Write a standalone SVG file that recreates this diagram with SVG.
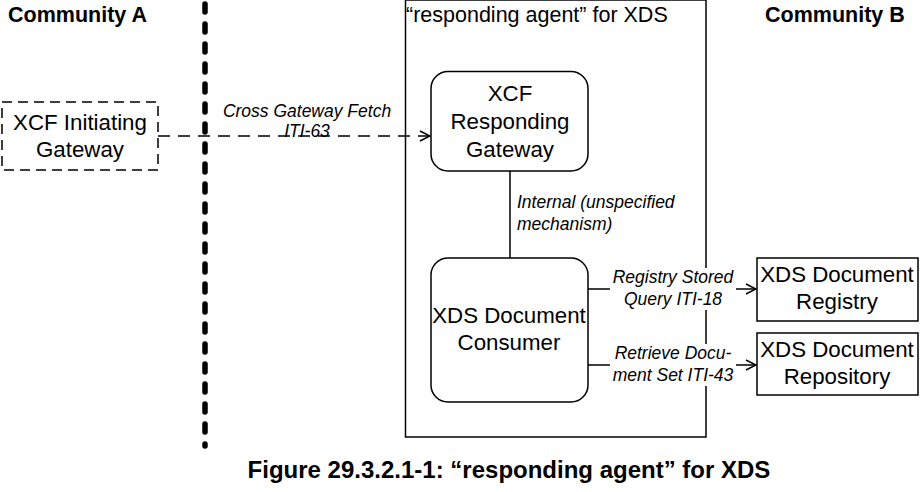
<svg xmlns="http://www.w3.org/2000/svg" width="924" height="492" viewBox="0 0 924 492">
<defs>
<style>
text{font-family:"Liberation Sans",Arial,sans-serif;fill:#000}
.b{font-weight:bold;font-size:21.5px}
.n{font-size:22.3px;text-anchor:middle}
.i{font-style:italic;font-size:17.5px}
.box{fill:#fff;stroke:#000;stroke-width:1.5}
.ln{fill:none;stroke:#000;stroke-width:1.5}
</style>
<marker id="arr" viewBox="0 0 12 12" refX="11" refY="6" markerWidth="12" markerHeight="12" markerUnits="userSpaceOnUse" orient="auto">
<path d="M1,1 L11,6 L1,11" fill="none" stroke="#000" stroke-width="1.5"/>
</marker>
</defs>
<rect width="924" height="492" fill="#fff"/>
<text class="b" x="8" y="22">Community A</text>
<text class="b" x="765" y="22">Community B</text>
<line x1="205" y1="4" x2="205" y2="446" stroke="#000" stroke-width="5.5" stroke-linecap="round" stroke-dasharray="8 12"/>
<g id="responding-agent">
<rect x="405.5" y="0" width="300.5" height="437" fill="none" stroke="#000" stroke-width="1.5"/>
<text x="406" y="22" style="font-size:21.5px">“responding agent” for XDS</text>
</g>
<g id="connectors">
<line class="ln" x1="158" y1="136" x2="430" y2="136" stroke-dasharray="12 8" marker-end="url(#arr)"/>
<text class="i" x="307" y="117" text-anchor="middle">Cross Gateway Fetch</text>
<text class="i" x="307" y="137" text-anchor="middle">ITI-63</text>
<line class="ln" x1="588" y1="289" x2="756" y2="289" marker-end="url(#arr)"/>
<rect x="610" y="268" width="126" height="42" fill="#fff"/>
<text class="i" x="673" y="283" text-anchor="middle">Registry Stored</text>
<text class="i" x="673" y="305" text-anchor="middle">Query ITI-18</text>
<line class="ln" x1="588" y1="365" x2="756" y2="365" marker-end="url(#arr)"/>
<rect x="610" y="344" width="126" height="42" fill="#fff"/>
<text class="i" x="673" y="359" text-anchor="middle">Retrieve Docu-</text>
<text class="i" x="673" y="381" text-anchor="middle">ment Set ITI-43</text>
<line class="ln" x1="510" y1="171" x2="510" y2="258"/>
<text class="i" x="517" y="208">Internal (unspecified</text>
<text class="i" x="517" y="230">mechanism)</text>
</g>
<g id="xcf-initiating-gateway">
<rect x="2" y="102" width="156" height="68" fill="#fff" stroke="#000" stroke-width="1.5" stroke-dasharray="10 6"/>
<text class="n" x="80" y="130">XCF Initiating</text>
<text class="n" x="80" y="157">Gateway</text>
</g>
<g id="xcf-responding-gateway">
<rect class="box" x="431" y="71.5" width="157" height="99.5" rx="17"/>
<text class="n" x="510" y="101">XCF</text>
<text class="n" x="510" y="129">Responding</text>
<text class="n" x="510" y="157">Gateway</text>
</g>
<g id="xds-document-consumer">
<rect class="box" x="431" y="258" width="157" height="144" rx="17"/>
<text class="n" x="509" y="323">XDS Document</text>
<text class="n" x="509" y="350">Consumer</text>
</g>
<g id="xds-document-registry">
<rect class="box" x="757" y="258" width="161" height="63"/>
<text class="n" x="837" y="282">XDS Document</text>
<text class="n" x="837" y="309">Registry</text>
</g>
<g id="xds-document-repository">
<rect class="box" x="757" y="333" width="161" height="62"/>
<text class="n" x="837" y="357">XDS Document</text>
<text class="n" x="837" y="384">Repository</text>
</g>
<text class="b" x="509" y="478" text-anchor="middle" style="font-size:24px">Figure 29.3.2.1-1: “responding agent” for XDS</text>
</svg>
